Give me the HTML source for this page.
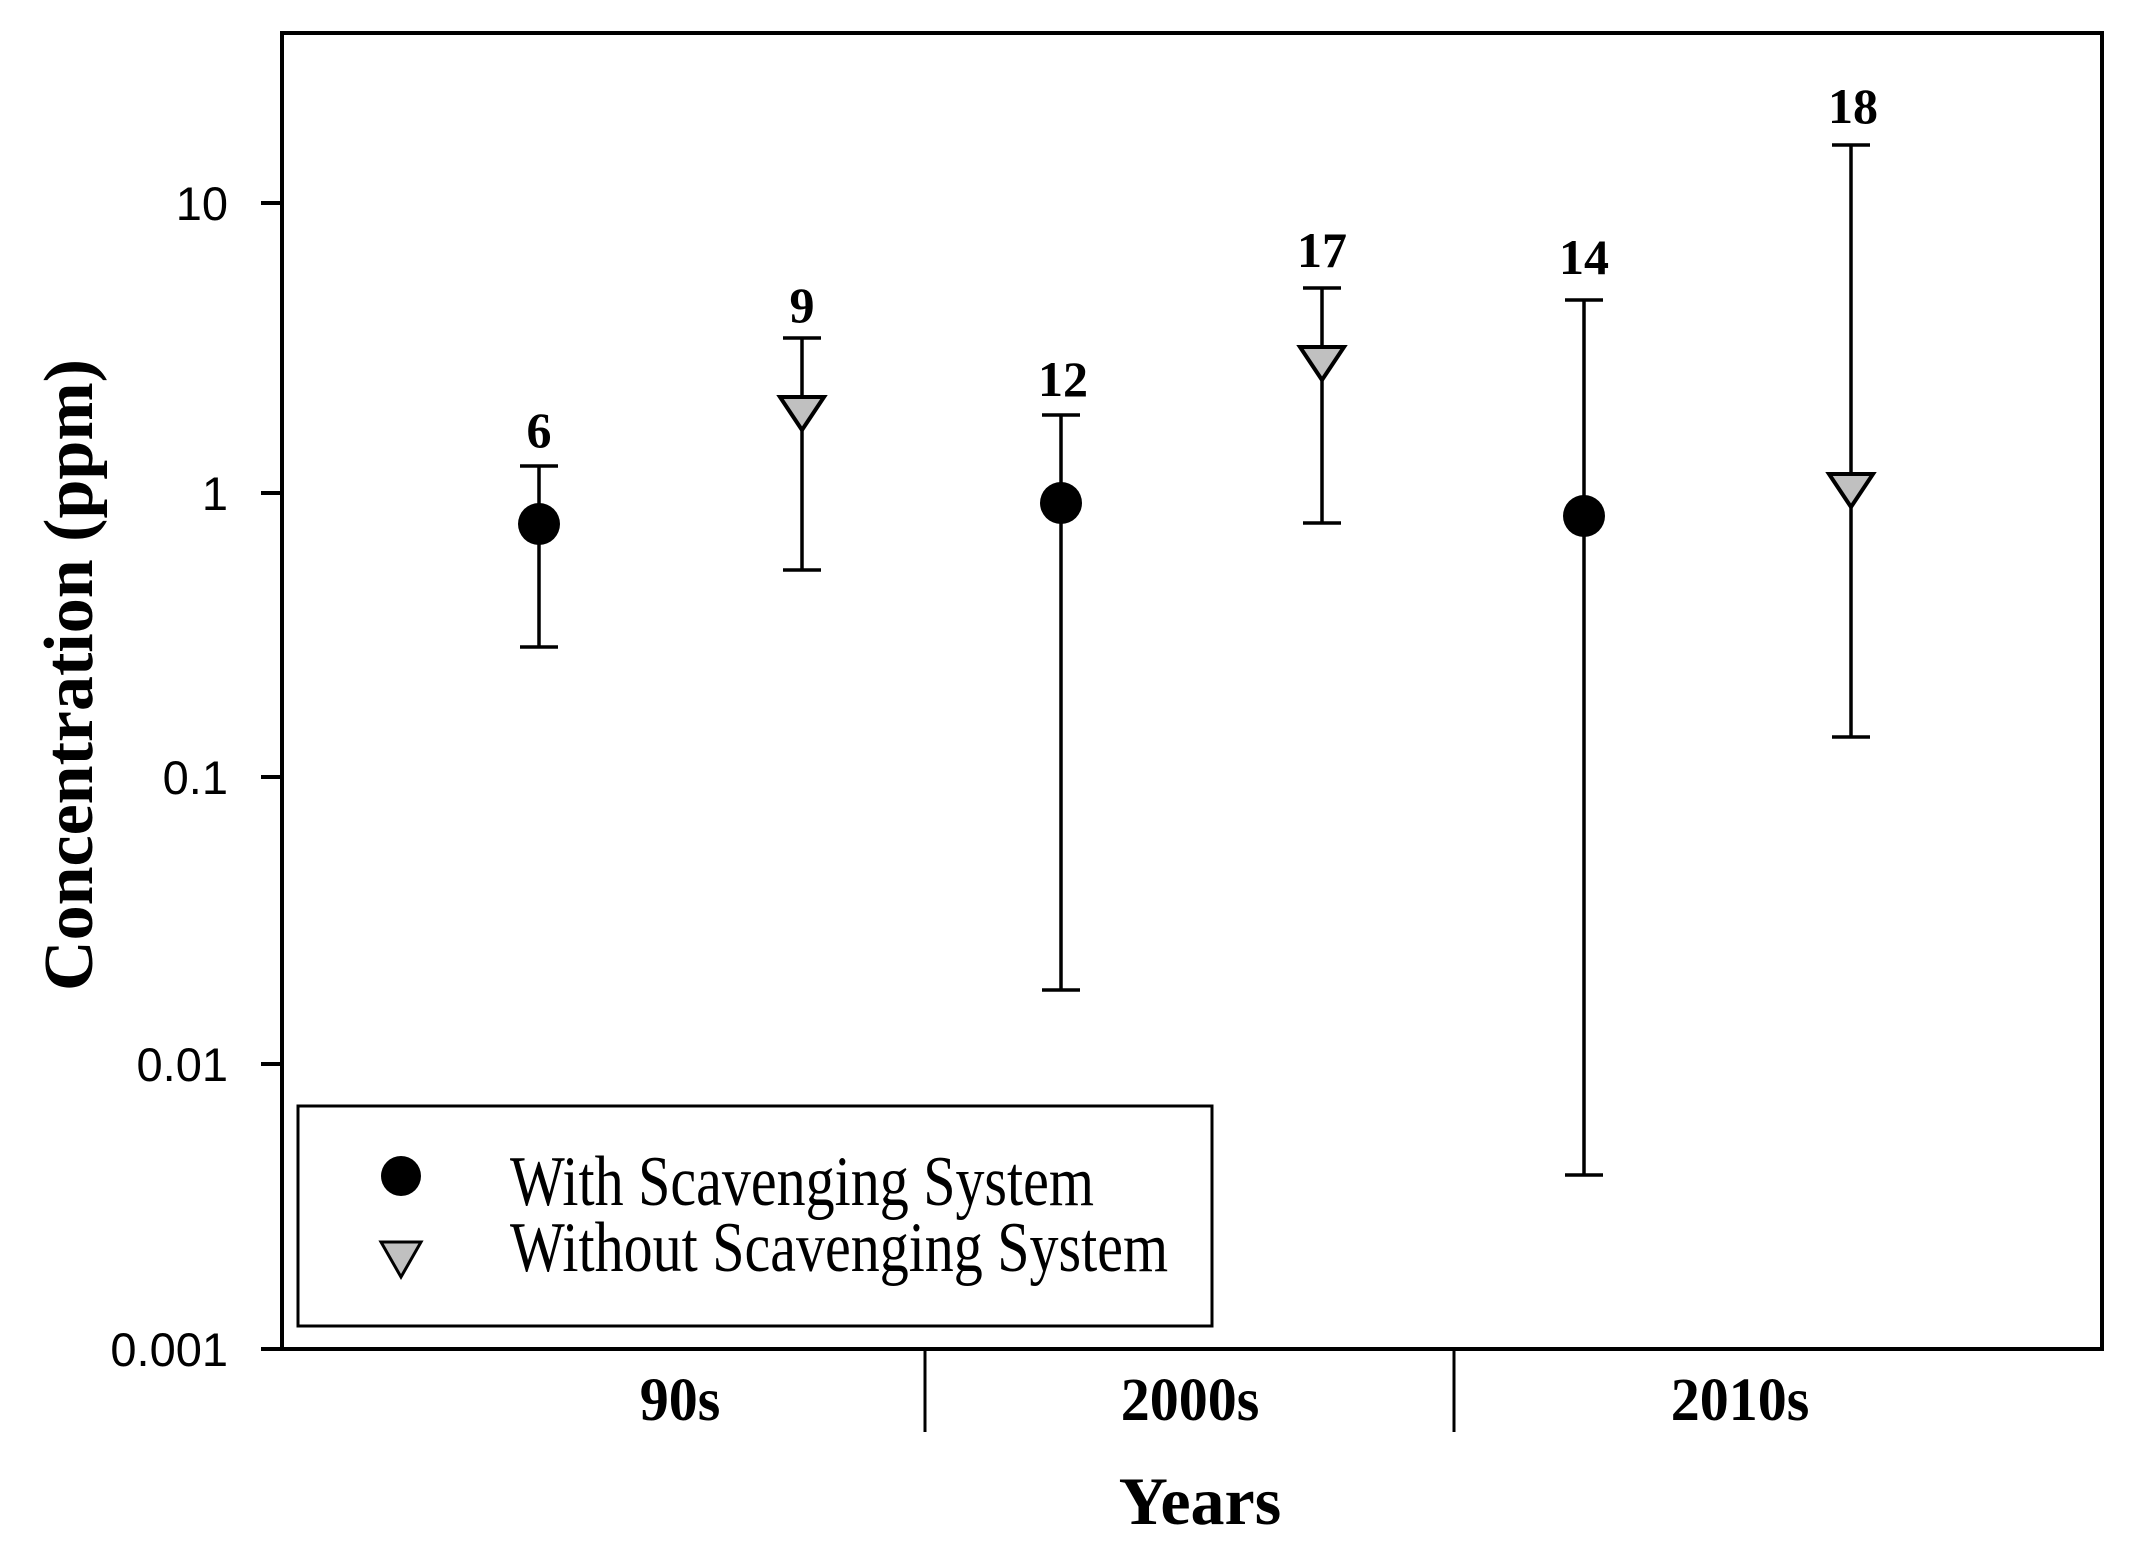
<!DOCTYPE html>
<html><head><meta charset="utf-8"><style>
html,body{margin:0;padding:0;background:#fff;}
svg{display:block;}
</style></head><body>
<svg width="2138" height="1541" viewBox="0 0 2138 1541" xmlns="http://www.w3.org/2000/svg">
<rect width="2138" height="1541" fill="#fff"/>
<rect x="282" y="33" width="1820" height="1316" fill="none" stroke="#000" stroke-width="4"/>
<g stroke="#000" stroke-width="4">
<line x1="261" y1="203" x2="282" y2="203"/>
<line x1="261" y1="493" x2="282" y2="493"/>
<line x1="261" y1="777" x2="282" y2="777"/>
<line x1="261" y1="1064" x2="282" y2="1064"/>
<line x1="261" y1="1349" x2="282" y2="1349"/>
<line x1="925" y1="1349" x2="925" y2="1432" stroke-width="3"/>
<line x1="1454" y1="1349" x2="1454" y2="1432" stroke-width="3"/>
</g>
<g font-family="Liberation Sans, sans-serif" font-size="47" text-anchor="end" fill="#000">
<text x="228" y="220">10</text>
<text x="228" y="510">1</text>
<text x="228" y="794">0.1</text>
<text x="228" y="1081">0.01</text>
<text x="228" y="1366">0.001</text>
</g>
<g font-family="Liberation Serif, serif" font-weight="bold" font-size="58" text-anchor="middle" fill="#000">
<text x="680" y="1420" transform="translate(0,-71) scale(1,1.05)">90s</text>
<text x="1190" y="1420" transform="translate(0,-71) scale(1,1.05)">2000s</text>
<text x="1740" y="1420" transform="translate(0,-71) scale(1,1.05)">2010s</text>
</g>
<text x="1200" y="1524" font-family="Liberation Serif, serif" font-weight="bold" font-size="68" text-anchor="middle">Years</text>
<text transform="translate(92,675) rotate(-90)" font-family="Liberation Serif, serif" font-weight="bold" font-size="70" text-anchor="middle">Concentration (ppm)</text>
<g stroke="#000" stroke-width="3.5" fill="none">
<path d="M539 466V647M520 466H558M520 647H558"/>
<path d="M802 338V570M783 338H821M783 570H821"/>
<path d="M1061 415V990M1042 415H1080M1042 990H1080"/>
<path d="M1322 288V523M1303 288H1341M1303 523H1341"/>
<path d="M1584 300V1175M1565 300H1603M1565 1175H1603"/>
<path d="M1851 145V737M1832 145H1870M1832 737H1870"/>
</g>
<g fill="#000">
<circle cx="539" cy="524" r="21"/>
<circle cx="1061" cy="503" r="21"/>
<circle cx="1584" cy="516" r="21"/>
</g>
<g fill="#c0c0c0" stroke="#000" stroke-width="4">
<polygon points="780,397 824,397 802,430"/>
<polygon points="1300,347 1344,347 1322,380"/>
<polygon points="1829,474 1873,474 1851,507"/>
</g>
<g font-family="Liberation Serif, serif" font-weight="bold" font-size="50" text-anchor="middle">
<text x="539" y="447">6</text>
<text x="802" y="322">9</text>
<text x="1063" y="396">12</text>
<text x="1322" y="267">17</text>
<text x="1584" y="274">14</text>
<text x="1853" y="123">18</text>
</g>
<rect x="298" y="1106" width="914" height="220" fill="#fff" stroke="#000" stroke-width="3"/>
<ellipse cx="401" cy="1176" rx="20" ry="20" fill="#000"/>
<polygon points="381,1242 421,1242 401,1277" fill="#c0c0c0" stroke="#000" stroke-width="3"/>
<g font-family="Liberation Serif, serif" font-size="58" fill="#000">
<text x="510" y="0" transform="translate(0,1205) scale(1,1.22)">With Scavenging System</text>
<text x="510" y="0" transform="translate(0,1271) scale(1,1.22)">Without Scavenging System</text>
</g>
</svg>
</body></html>
